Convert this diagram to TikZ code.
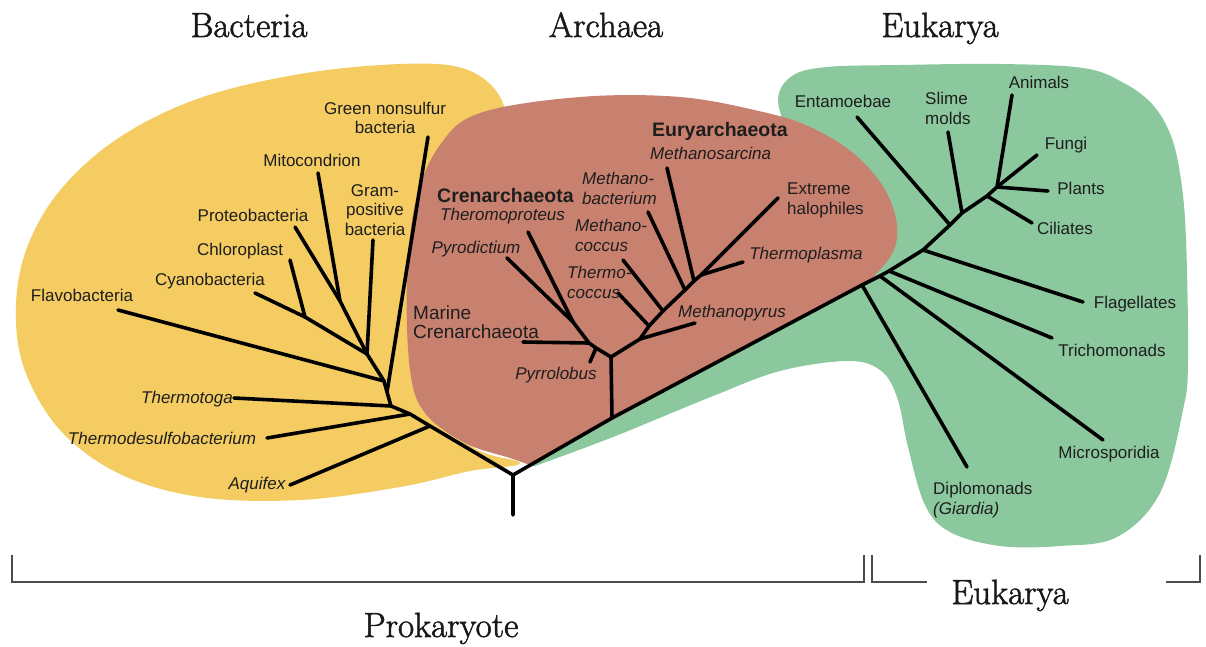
\documentclass[tikz,border=0pt]{standalone}
\usepackage{fontspec}
\newfontfamily\labf{Liberation Sans}
\newfontfamily\ttlf[FakeBold=1.6]{Latin Modern Roman}
\definecolor{yel}{HTML}{F4CC62}
\definecolor{redb}{HTML}{C8806F}
\definecolor{grn}{HTML}{8BC89D}
\definecolor{ink}{HTML}{1E1E1E}
\tikzset{
 lbl/.style={inner sep=0pt, text=ink, font=\labf\fontsize{17}{19.5}\selectfont},
 ilbl/.style={inner sep=0pt, text=ink, font=\labf\itshape\fontsize{17}{19.5}\selectfont},
 blbl/.style={inner sep=0pt, text=ink, font=\labf\bfseries\fontsize{19.5}{22}\selectfont},
 mlbl/.style={inner sep=0pt, text=ink, font=\labf\fontsize{19}{18.5}\selectfont},
 brline/.style={line width=3.6pt, black, line cap=round, line join=round},
 ttl/.style={inner sep=0pt, anchor=base, text=black!90, font=\ttlf\fontsize{35}{40}\selectfont},
 brk/.style={line width=2pt, draw=black!70},
}
\begin{document}
\begin{tikzpicture}[x=1pt,y=-1pt]
\useasboundingbox (0,0) rectangle (1206,647);
\fill[white] (0,0) rectangle (1206,647);

% ---------- blobs ----------
\fill[yel] plot[smooth cycle, tension=0.6] coordinates {(520,463) (470,471) (400,487) (300,500) (200,497) (120,474) (60,430) (24,368) (16,305) (28,245) (62,188) (120,137) (200,98) (300,74) (400,64) (462,68) (497,92) (506,128) (490,170) (440,260) (425,380) (470,445)};

\fill[grn] (530,466) -- (760,320) -- plot[smooth, tension=0.6] coordinates {(790,140) (778,100) (792,76) (827,67) (900,65) (1000,64) (1083,68) (1122,82) (1152,104) (1171,136) (1181,180) (1186,240) (1188,360) (1183,410) (1160,493) (1117,537) (1060,546) (1000,546) (950,532) (925,505) (908,447) (897,397) (880,370) (847,361) (780,371) (713,396) (613,437) (535,466)} -- cycle;

\fill[redb] plot[smooth, tension=0.6] coordinates {(870,280) (892,254) (897,225) (884,188) (853,153) (810,127) (763,112) (680,97) (580,97) (480,113) (440,145) (416,200) (407,280) (410,370) (425,413) (465,443) (510,458) (530,465)} -- cycle;

% ---------- tree coordinates ----------
\coordinate (R) at (513,515);
\coordinate (R0) at (513,475);
% bacteria
\coordinate (b1) at (430,426);
\coordinate (b2) at (410,414);
\coordinate (b3) at (391,406);
\coordinate (b4) at (387,392);
\coordinate (b5) at (384,381);
\coordinate (b6) at (367,354);
\coordinate (b7) at (340,301);
\coordinate (b8) at (305,317);
\coordinate (lAqu) at (290,485);
\coordinate (lThd) at (267,438);
\coordinate (lTht) at (234,398);
\coordinate (lGns) at (428,137);
\coordinate (lFla) at (118,310);
\coordinate (lGrm) at (373,240);
\coordinate (lCya) at (255,293);
\coordinate (lChl) at (290,260);
\coordinate (lPro) at (295,227);
\coordinate (lMit) at (318,173);
% archaea
\coordinate (A0) at (612,418);
\coordinate (A1) at (611,357);
\coordinate (c1) at (596,348);
\coordinate (c2) at (589,343);
\coordinate (c3) at (573,322);
\coordinate (lPyl) at (590,362);
\coordinate (lMar) at (523,342);
\coordinate (lPyd) at (507,258);
\coordinate (lThp) at (528,232);
\coordinate (e1) at (640,339);
\coordinate (e2) at (649,326);
\coordinate (e3) at (663,311);
\coordinate (e4) at (685,290);
\coordinate (e5) at (694,281);
\coordinate (e6) at (701,275);
\coordinate (lMpy) at (695,323);
\coordinate (lTcc) at (618,293);
\coordinate (lMcc) at (623,260);
\coordinate (lMbc) at (648,212);
\coordinate (lMsa) at (667,168);
\coordinate (lTpl) at (743,262);
\coordinate (lHal) at (778,198);
% eukarya
\coordinate (k1) at (862,285);
\coordinate (k2) at (880,276);
\coordinate (k3) at (889,271);
\coordinate (k4) at (923,250);
\coordinate (k5) at (950,225);
\coordinate (k6) at (962,213);
\coordinate (k7) at (987,196);
\coordinate (k8) at (997,187);
\coordinate (lDip) at (967,467);
\coordinate (lMic) at (1103,440);
\coordinate (lTri) at (1052,338);
\coordinate (lFlg) at (1083,302);
\coordinate (lEnt) at (857,117);
\coordinate (lSli) at (948,132);
\coordinate (lCil) at (1032,223);
\coordinate (lPla) at (1048,191);
\coordinate (lFun) at (1037,155);
\coordinate (lAni) at (1012,95);

% ---------- branches ----------
\draw[brline] (R) -- (R0) -- (b1) -- (b2) -- (b3) -- (b4) -- (b5) -- (b6) -- (b7) -- (lPro);
\draw[brline] (b7) -- (lMit);
\draw[brline] (b6) -- (b8) -- (lCya);
\draw[brline] (b8) -- (lChl);
\draw[brline] (b6) -- (lGrm);
\draw[brline] (b5) -- (lFla);
\draw[brline] (b4) -- (lGns);
\draw[brline] (b3) -- (lTht);
\draw[brline] (b2) -- (lThd);
\draw[brline] (b1) -- (lAqu);

\draw[brline] (A0) -- (A1) -- (c1) -- (c2) -- (c3) -- (lPyd);
\draw[brline] (c3) -- (lThp);
\draw[brline] (c2) -- (lMar);
\draw[brline] (c1) -- (lPyl);
\draw[brline] (A1) -- (e1) -- (e2) -- (e3) -- (e4) -- (e5) -- (e6) -- (lHal);
\draw[brline] (e6) -- (lTpl);
\draw[brline] (e5) -- (lMsa);
\draw[brline] (e4) -- (lMbc);
\draw[brline] (e3) -- (lMcc);
\draw[brline] (e2) -- (lTcc);
\draw[brline] (e1) -- (lMpy);

\draw[brline] (R0) -- (A0) -- (k1) -- (k2) -- (k3) -- (k4) -- (k5) -- (k6) -- (k7) -- (k8) -- (lAni);
\draw[brline] (k8) -- (lFun);
\draw[brline] (k8) -- (lPla);
\draw[brline] (k7) -- (lCil);
\draw[brline] (k6) -- (lSli);
\draw[brline] (k5) -- (lEnt);
\draw[brline] (k4) -- (lFlg);
\draw[brline] (k3) -- (lTri);
\draw[brline] (k2) -- (lMic);
\draw[brline] (k1) -- (lDip);

% ---------- labels: bacteria ----------
\node[lbl, align=center] (tGns) at (385,118) {Green nonsulfur\\bacteria};
\node[lbl] (tMit) at (312,160) {Mitocondrion};
\node[lbl, align=center] (tGrm) at (375,210) {Gram-\\positive\\bacteria};
\node[lbl] (tPro) at (253,215) {Proteobacteria};
\node[lbl] (tChl) at (240,251) {Chloroplast};
\node[lbl] (tCya) at (210,281) {Cyanobacteria};
\node[lbl] (tFla) at (82,295) {Flavobacteria};
\node[ilbl] (tTht) at (187,399) {Thermotoga};
\node[ilbl] (tThd) at (162,438) {Thermodesulfobacterium};
\node[ilbl] (tAqu) at (257,485) {Aquifex};

% ---------- labels: archaea ----------
\node[blbl, anchor=west] (tEur) at (652,131) {Euryarchaeota};
\node[ilbl, anchor=west] (tMsa) at (650,153) {Methanosarcina};
\node[blbl, anchor=west] (tCre) at (437,196) {Crenarchaeota};
\node[ilbl, anchor=west] (tThp) at (440,216) {Theromoproteus};
\node[ilbl, align=left, anchor=north west] (tMbc) at (582,172) {Methano-\\bacterium};
\node[ilbl, align=left, anchor=north west] (tMcc) at (575,219) {Methano-\\coccus};
\node[ilbl, align=left, anchor=north west] (tTcc) at (567,266) {Thermo-\\coccus};
\node[ilbl] (tPyd) at (476,249) {Pyrodictium};
\node[mlbl, align=left, anchor=north west] (tMar) at (413,306) {Marine\\Crenarchaeota};
\node[ilbl] (tPyl) at (556,375) {Pyrrolobus};
\node[ilbl] (tMpy) at (732,313) {Methanopyrus};
\node[ilbl] (tTpl) at (806,255) {Thermoplasma};
\node[lbl, align=left, anchor=north west] (tHal) at (787,183) {Extreme\\halophiles};

% ---------- labels: eukarya ----------
\node[lbl] (tEnt) at (843,101) {Entamoebae};
\node[lbl, align=left, anchor=north west] (tSli) at (925,92) {Slime\\molds};
\node[lbl] (tAni) at (1039,82) {Animals};
\node[lbl] (tFun) at (1066,145) {Fungi};
\node[lbl] (tPla) at (1081,188) {Plants};
\node[lbl] (tCil) at (1065,228) {Ciliates};
\node[lbl] (tFlg) at (1135,304) {Flagellates};
\node[lbl] (tTri) at (1112,350) {Trichomonads};
\node[lbl] (tMic) at (1109,454) {Microsporidia};
\node[lbl, align=left, anchor=north west] (tDip) at (933,482) {Diplomonads\\\textit{(Giardia)}};

% ---------- titles ----------
\node[ttl] (hB) at (249,37) {Bacteria};
\node[ttl] (hA) at (606,37) {Archaea};
\node[ttl] (hE) at (940,37) {Eukarya};
\node[ttl] (hP) at (441,637) {Prokaryote};
\node[ttl] (hE2) at (1010,604) {Eukarya};

% ---------- brackets ----------
\draw[brk] (12,555) -- (12,582) -- (864,582) -- (864,555);
\draw[brk] (872,555) -- (872,582) -- (927,582);
\draw[brk] (1166,582) -- (1200,582) -- (1200,555);
\end{tikzpicture}
\end{document}
